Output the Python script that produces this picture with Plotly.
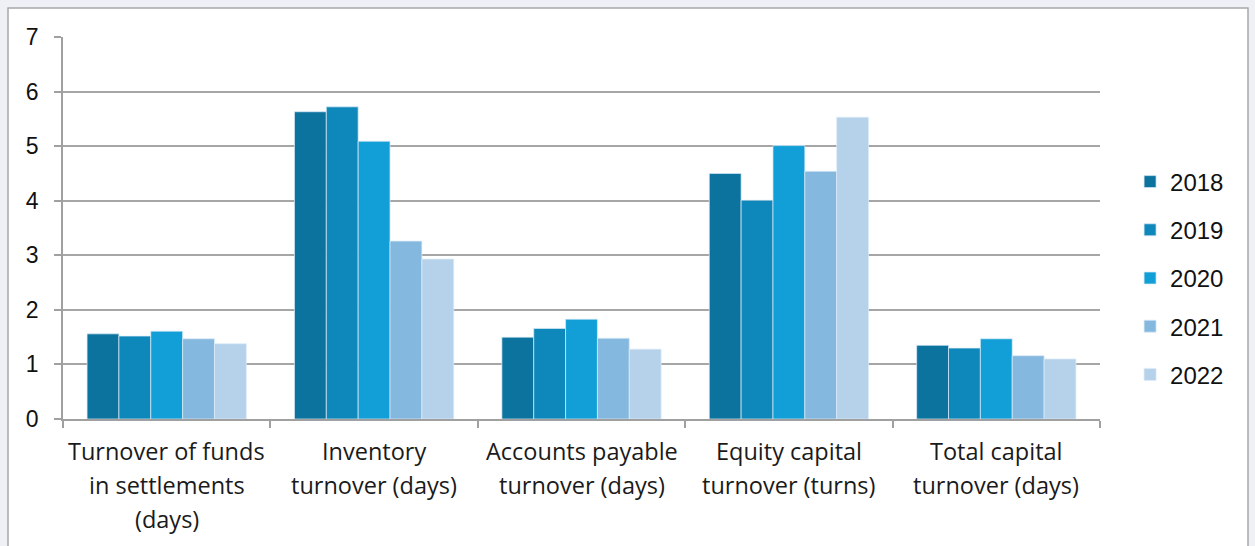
import plotly.graph_objects as go

# Turnover indicators by year
categories = [
    "Turnover of funds in settlements (days)",
    "Inventory turnover (days)",
    "Accounts payable turnover (days)",
    "Equity capital turnover (turns)",
    "Total capital turnover (days)",
]
label_lines = [
    ["Turnover of funds", "in settlements", "(days)"],
    ["Inventory", "turnover (days)"],
    ["Accounts payable", "turnover (days)"],
    ["Equity capital", "turnover (turns)"],
    ["Total capital", "turnover (days)"],
]
years = ["2018", "2019", "2020", "2021", "2022"]
values_2018 = [1.56, 5.63, 1.50, 4.50, 1.35]
values_2019 = [1.52, 5.72, 1.66, 4.01, 1.30]
values_2020 = [1.61, 5.09, 1.83, 5.01, 1.47]
values_2021 = [1.47, 3.26, 1.48, 4.54, 1.16]
values_2022 = [1.38, 2.93, 1.28, 5.53, 1.10]
series = [values_2018, values_2019, values_2020, values_2021, values_2022]
colors = ["#0b739e", "#0e88ba", "#129fd7", "#84b8df", "#b6d2ea"]

y_ticks = [0, 1, 2, 3, 4, 5, 6, 7]

W, H = 1255, 546
L, R, T, B = 63, 155, 37, 127

fig = go.Figure()
for name, vals, col in zip(years, series, colors):
    fig.add_trace(go.Bar(
        x=categories, y=vals, name=name,
        marker=dict(color=col, line=dict(color="rgba(220,235,248,0.9)", width=0.8)),
        legendgroup=name,
    ))

# Category labels, one annotation per line
annotations = []
for cat, lines in zip(categories, label_lines):
    for i, line in enumerate(lines):
        annotations.append(dict(
            x=cat, y=0, xref="x", yref="y", text=line, showarrow=False,
            yanchor="middle", xanchor="center", yshift=-(32 + 34 * i),
            font=dict(family="Open Sans", size=23.5, color="#1a1a1a"),
        ))

# Chart frame on the page
shapes = [dict(
    type="rect", xref="paper", yref="paper",
    x0=(8 - L) / (W - L - R), x1=(1248 - L) / (W - L - R),
    y0=(H - B - 560) / (H - T - B), y1=(H - B - 8) / (H - T - B),
    fillcolor="white", line=dict(color="#a8a8a8", width=1.5), layer="below",
)]

fig.update_layout(
    width=W, height=H,
    margin=dict(l=L, r=R, t=T, b=B),
    paper_bgcolor="#eef0f5",
    plot_bgcolor="white",
    barmode="group",
    bargap=0.232,
    bargroupgap=0,
    shapes=shapes,
    annotations=annotations,
    showlegend=True,
    legend=dict(
        x=1.029, xanchor="left", y=(H - B - 278) / (H - T - B), yanchor="middle",
        traceorder="grouped", tracegroupgap=14,
        font=dict(family="Liberation Sans", size=24, color="#111111"),
        bgcolor="rgba(0,0,0,0)",
    ),
    xaxis=dict(
        showticklabels=False, showgrid=False,
        showline=True, linecolor="#a0a0a0", linewidth=1.5,
        ticks="outside", ticklen=7, tickcolor="#a0a0a0", tickwidth=1.5,
        tickson="boundaries",
    ),
    yaxis=dict(
        range=[0, 7], tickvals=y_ticks, ticktext=[str(v) for v in y_ticks],
        showgrid=True, gridcolor="#a6a6a6", gridwidth=1.5,
        showline=True, linecolor="#a0a0a0", linewidth=1.5,
        ticks="outside", ticklen=7, tickcolor="#a0a0a0", tickwidth=1.5,
        ticklabelstandoff=11, zeroline=False,
        tickfont=dict(family="Liberation Sans", size=23, color="#111111"),
    ),
)

fig.write_html("out.html")
